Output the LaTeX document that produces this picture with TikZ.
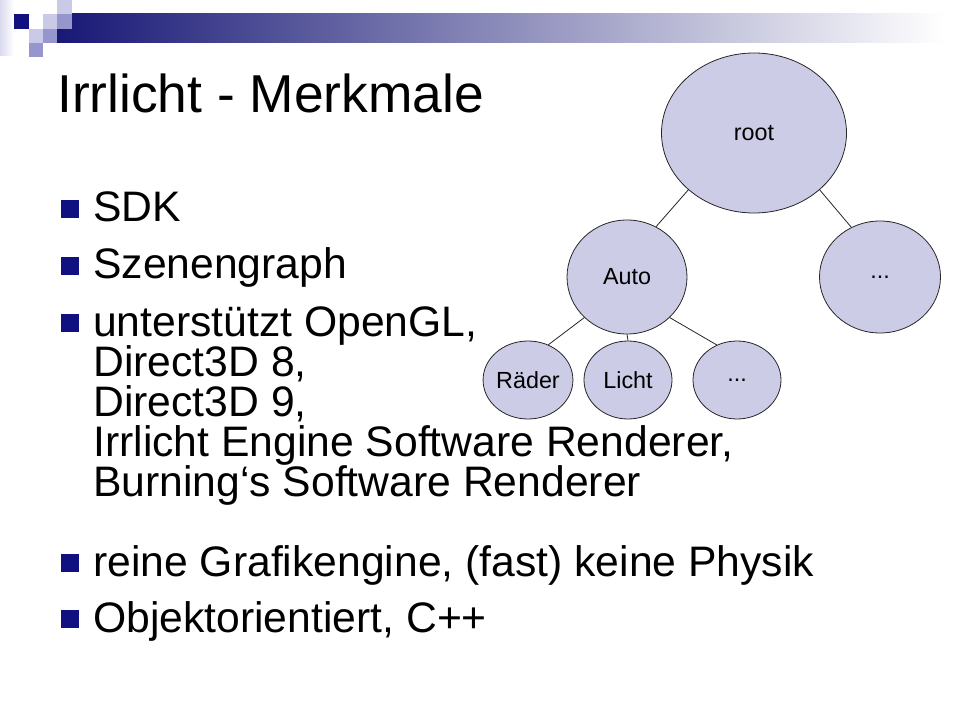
\documentclass[tikz,border=0pt]{standalone}
\usepackage{fontspec}
\setmainfont{Liberation Sans}
\usetikzlibrary{positioning}
\usetikzlibrary{shapes.geometric}
\usetikzlibrary{calc}
\definecolor{navybullet}{RGB}{16,16,128}
\definecolor{barnavy}{RGB}{24,24,118}
\definecolor{treefill}{RGB}{204,204,230}
\definecolor{sqlight}{RGB}{202,202,232}
\definecolor{sqmid}{RGB}{150,150,205}
\tikzset{
  bulletsq/.style={fill=navybullet, minimum size=13.5pt, inner sep=0pt},
  itemtext/.style={anchor=base west, inner sep=0pt, font=\fontsize{32}{36}\selectfont},
  treenode/.style={ellipse, draw=black!85, line width=0.6pt, fill=treefill, inner sep=0pt, font=\fontsize{17.5}{20}\selectfont},
  leafnode/.style={treenode, minimum width=66pt, minimum height=58.5pt},
  branch/.style={line width=0.6pt, draw=black!85}
}

\begin{document}
\begin{tikzpicture}[x=0.75pt, y=-0.75pt]
    \useasboundingbox (0,0) rectangle (960,720);
    \def\sq{14.3}
    \def\linestep{40}

    % header bar and squares
    \shade[left color=sqlight!70, right color=white] (0,0) rectangle (14,56);
    \shade[left color=barnavy, right color=white] (57,14) rectangle (945,43);
    \fill[navybullet] (\sq,\sq) rectangle +(\sq,\sq);
    \fill[sqlight] (4*\sq,0) rectangle +(\sq,\sq);
    \fill[sqlight] (3*\sq,\sq) rectangle +(\sq,\sq);
    \fill[sqmid] (4*\sq,\sq) rectangle +(\sq,\sq);
    \fill[sqlight] (2*\sq,2*\sq) rectangle +(\sq,\sq);
    \fill[sqmid] (3*\sq,2*\sq) rectangle +(\sq,\sq);
    \fill[sqmid] (2*\sq,3*\sq) rectangle +(\sq,\sq);

    \node[anchor=base west, inner sep=0pt, font=\fontsize{40}{44}\selectfont] (title) at (57,113) {Irrlicht - Merkmale};

    % bullet list
    \node[itemtext] (sdk) at (93,222) {SDK};
    \node[itemtext] (szene) at (93,279) {Szenengraph};
    \node[itemtext] (opengl) at (93,336) {unterstützt OpenGL,};
    \foreach \t [count=\z] in {{Direct3D 8,},{Direct3D 9,},{Irrlicht Engine Software Renderer,},{Burning‘s Software Renderer}} {
      \node[itemtext] (cont\z) at ($(opengl.base west)+(0,\z*\linestep)$) {\t};
    }
    \node[itemtext] (grafik) at (93,576) {reine Grafikengine, (fast) keine Physik};
    \node[itemtext] (objekt) at (93,632) {Objektorientiert, C++};

    \foreach \n in {sdk,szene,opengl,grafik,objekt} {
      \node[bulletsq] (sq-\n) at ($(\n.base west)+(-23,-13)$) {};
    }

    % scene graph
    \node[treenode, minimum width=138.75pt, minimum height=120pt] (root) at (754,133) {root};
    \node[treenode, minimum width=90pt, minimum height=85.5pt] (auto) at (627,277) {Auto};
    \node[treenode, minimum width=90.75pt, minimum height=84pt] (more1) at (880,277) {...};
    \node[leafnode] (raeder) at (528,380) {Räder};
    \node[leafnode] (licht) at (628,380) {Licht};
    \node[leafnode] (more2) at (737,380) {...};

    \draw[branch] (root.south west) -- (auto.60);
    \draw[branch] (root.south east) -- (more1.120);
    \draw[branch] (auto.south west) -- (raeder.60);
    \draw[branch] (auto.south) -- (licht.north);
    \draw[branch] (auto.south east) -- (more2.120);
\end{tikzpicture}
\end{document}
